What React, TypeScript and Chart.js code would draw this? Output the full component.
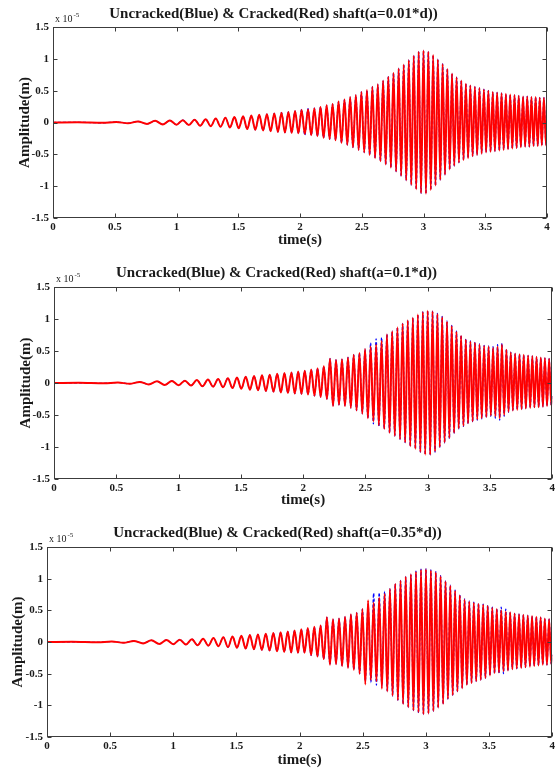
import React, { useEffect, useRef } from "react";
import { Chart, registerables } from "chart.js";

Chart.register(...registerables);

// Amplitudes are in units of 1e-5 m (axis multiplier "x 10^-5").
// Times (s) of the successive extrema (shared by all panels).
const TIME = [
  0, 0.2, 0.4,
  0.513, 0.607, 0.688, 0.761, 0.827, 0.889, 0.946, 1.0, 1.051, 1.1,
  1.147, 1.192, 1.236, 1.277, 1.318, 1.357, 1.396, 1.433, 1.469, 1.504,
  1.539, 1.573, 1.606, 1.638, 1.67, 1.701, 1.732, 1.762, 1.792, 1.821,
  1.85, 1.878, 1.906, 1.933, 1.96, 1.987,
  2.013, 2.039, 2.065, 2.091, 2.116, 2.141, 2.166, 2.191, 2.216, 2.24,
  2.264, 2.288, 2.312, 2.336, 2.36, 2.383, 2.406, 2.429, 2.452, 2.475,
  2.497, 2.52, 2.542, 2.564, 2.586, 2.608, 2.63, 2.651, 2.673, 2.694,
  2.715, 2.736, 2.757, 2.778, 2.799, 2.819, 2.84, 2.86, 2.881, 2.901,
  2.921, 2.941, 2.961, 2.98, 3.0, 3.02, 3.039, 3.059, 3.078, 3.097,
  3.116, 3.136, 3.155, 3.174, 3.193, 3.212, 3.231, 3.249, 3.268, 3.287,
  3.306, 3.324, 3.343, 3.361, 3.379, 3.398, 3.416, 3.434, 3.453, 3.471,
  3.489, 3.507, 3.525, 3.543, 3.561, 3.578, 3.596, 3.614, 3.632, 3.649,
  3.667, 3.684, 3.702, 3.719, 3.737, 3.754, 3.771, 3.788, 3.806, 3.823,
  3.84, 3.857, 3.874, 3.891, 3.908, 3.925, 3.941, 3.958, 3.975, 3.992,
  4.0,
];

// Early part of the response (t < 2 s), identical in all panels.
const EARLY_AMP = [
  0, 0.003, -0.005,
  0.008, -0.012, 0.017, -0.022, 0.026, -0.03, 0.032, -0.035, 0.037, -0.04,
  0.045, -0.05, 0.053, -0.058, 0.062, -0.067, 0.074, -0.08, 0.085, -0.09,
  0.097, -0.104, 0.11, -0.115, 0.12, -0.125, 0.13, -0.136, 0.143, -0.148,
  0.155, -0.158, 0.166, -0.165, 0.18, -0.17,
];

// Panel 1 (a = 0.01*d)
const RED_1 = [
  0.195, -0.18, 0.205, -0.2, 0.225, -0.215, 0.245, -0.24, 0.27, -0.26,
  0.29, -0.28, 0.33, -0.32, 0.36, -0.35, 0.4, -0.39, 0.43, -0.43,
  0.48, -0.47, 0.51, -0.51, 0.56, -0.56, 0.6, -0.61, 0.66, -0.66,
  0.72, -0.71, 0.78, -0.77, 0.85, -0.84, 0.91, -0.91, 0.98, -0.98,
  1.05, -1.05, 1.11, -1.11, 1.13, -1.12, 1.11, -1.06, 1.06, -0.99,
  0.99, -0.9, 0.92, -0.82, 0.84, -0.74, 0.77, -0.68, 0.71, -0.63,
  0.66, -0.59, 0.61, -0.56, 0.58, -0.53, 0.56, -0.51, 0.54, -0.49,
  0.52, -0.47, 0.5, -0.46, 0.48, -0.45, 0.47, -0.44, 0.46, -0.43,
  0.45, -0.42, 0.44, -0.41, 0.43, -0.4, 0.42, -0.39, 0.41, -0.38,
  0.41, -0.38, 0.4, -0.37, 0.4, -0.37, 0.39, -0.36, 0.39, -0.36,
  -0.2,
];
const BLUE_1 = [
  0.21, -0.2, 0.22, -0.2, 0.225, -0.215, 0.245, -0.24, 0.27, -0.26,
  0.29, -0.28, 0.33, -0.32, 0.36, -0.35, 0.4, -0.39, 0.43, -0.43,
  0.48, -0.47, 0.51, -0.51, 0.56, -0.56, 0.6, -0.61, 0.66, -0.66,
  0.72, -0.71, 0.78, -0.77, 0.85, -0.84, 0.91, -0.91, 0.98, -0.98,
  1.05, -1.05, 1.11, -1.11, 1.13, -1.12, 1.11, -1.06, 1.06, -0.99,
  0.99, -0.9, 0.92, -0.82, 0.84, -0.74, 0.77, -0.68, 0.71, -0.63,
  0.66, -0.59, 0.61, -0.56, 0.58, -0.53, 0.56, -0.51, 0.54, -0.49,
  0.52, -0.47, 0.5, -0.46, 0.48, -0.45, 0.47, -0.44, 0.46, -0.43,
  0.45, -0.42, 0.44, -0.41, 0.43, -0.4, 0.42, -0.39, 0.41, -0.38,
  0.41, -0.38, 0.4, -0.37, 0.4, -0.37, 0.39, -0.36, 0.39, -0.36,
  -0.2,
];

// Panel 2 (a = 0.1*d)
const RED_2 = [
  0.19, -0.18, 0.21, -0.2, 0.23, -0.22, 0.26, -0.25, 0.38, -0.36,
  0.36, -0.34, 0.37, -0.36, 0.4, -0.39, 0.44, -0.43, 0.47, -0.48,
  0.53, -0.55, 0.57, -0.6, 0.6, -0.66, 0.66, -0.72, 0.76, -0.78,
  0.81, -0.83, 0.87, -0.88, 0.93, -0.93, 0.98, -0.99, 1.02, -1.03,
  1.07, -1.08, 1.11, -1.12, 1.13, -1.12, 1.12, -1.07, 1.08, -1.0,
  1.03, -0.93, 0.96, -0.86, 0.89, -0.78, 0.8, -0.71, 0.74, -0.67,
  0.68, -0.63, 0.65, -0.6, 0.63, -0.57, 0.6, -0.55, 0.58, -0.53,
  0.57, -0.51, 0.55, -0.52, 0.57, -0.55, 0.6, -0.5, 0.52, -0.45,
  0.48, -0.43, 0.46, -0.42, 0.45, -0.41, 0.44, -0.4, 0.43, -0.39,
  0.42, -0.38, 0.41, -0.38, 0.4, -0.37, 0.39, -0.36, 0.38, -0.35,
  -0.2,
];
const BLUE_2 = [
  0.19, -0.18, 0.21, -0.2, 0.23, -0.22, 0.26, -0.25, 0.38, -0.36,
  0.36, -0.34, 0.37, -0.36, 0.4, -0.39, 0.44, -0.43, 0.47, -0.48,
  0.53, -0.55, 0.63, -0.64, 0.69, -0.68, 0.71, -0.72, 0.76, -0.78,
  0.81, -0.83, 0.87, -0.88, 0.93, -0.93, 0.98, -0.99, 1.02, -1.03,
  1.07, -1.08, 1.11, -1.12, 1.13, -1.12, 1.12, -1.08, 1.09, -1.01,
  1.04, -0.94, 0.97, -0.87, 0.9, -0.79, 0.81, -0.72, 0.75, -0.68,
  0.69, -0.64, 0.66, -0.61, 0.64, -0.58, 0.61, -0.56, 0.59, -0.54,
  0.58, -0.52, 0.57, -0.55, 0.6, -0.58, 0.62, -0.52, 0.53, -0.46,
  0.48, -0.43, 0.46, -0.42, 0.45, -0.41, 0.44, -0.4, 0.43, -0.39,
  0.42, -0.38, 0.41, -0.38, 0.4, -0.37, 0.39, -0.36, 0.38, -0.35,
  -0.2,
];

// Panel 3 (a = 0.35*d)
const RED_3 = [
  0.2, -0.17, 0.22, -0.21, 0.24, -0.23, 0.26, -0.27, 0.39, -0.36,
  0.36, -0.35, 0.37, -0.38, 0.4, -0.41, 0.44, -0.44, 0.46, -0.5,
  0.52, -0.67, 0.66, -0.6, 0.62, -0.62, 0.7, -0.74, 0.76, -0.78,
  0.84, -0.85, 0.92, -0.92, 0.97, -0.98, 1.03, -1.03, 1.07, -1.08,
  1.11, -1.11, 1.14, -1.14, 1.15, -1.13, 1.13, -1.09, 1.1, -1.04,
  1.04, -0.98, 0.96, -0.9, 0.89, -0.84, 0.81, -0.78, 0.74, -0.73,
  0.67, -0.68, 0.64, -0.65, 0.62, -0.62, 0.6, -0.6, 0.59, -0.57,
  0.57, -0.53, 0.54, -0.49, 0.52, -0.48, 0.5, -0.46, 0.48, -0.45,
  0.47, -0.43, 0.45, -0.42, 0.44, -0.41, 0.43, -0.4, 0.42, -0.39,
  0.41, -0.38, 0.4, -0.37, 0.39, -0.36, 0.37, -0.36, 0.36, -0.35,
  -0.2,
];
const BLUE_3 = [
  0.2, -0.17, 0.22, -0.21, 0.24, -0.23, 0.26, -0.27, 0.39, -0.36,
  0.36, -0.35, 0.37, -0.38, 0.4, -0.41, 0.44, -0.44, 0.46, -0.5,
  0.52, -0.62, 0.6, -0.64, 0.77, -0.68, 0.78, -0.7, 0.8, -0.78,
  0.84, -0.85, 0.92, -0.92, 0.97, -0.98, 1.03, -1.03, 1.07, -1.08,
  1.12, -1.12, 1.15, -1.14, 1.16, -1.13, 1.14, -1.09, 1.11, -1.04,
  1.05, -0.98, 0.97, -0.9, 0.9, -0.84, 0.82, -0.78, 0.75, -0.73,
  0.68, -0.68, 0.65, -0.65, 0.63, -0.62, 0.61, -0.6, 0.6, -0.57,
  0.58, -0.53, 0.55, -0.5, 0.53, -0.5, 0.55, -0.5, 0.52, -0.46,
  0.47, -0.43, 0.45, -0.42, 0.44, -0.41, 0.43, -0.4, 0.42, -0.39,
  0.41, -0.38, 0.4, -0.37, 0.39, -0.36, 0.37, -0.36, 0.36, -0.35,
  -0.2,
];

const X_TICKS = [0, 0.5, 1, 1.5, 2, 2.5, 3, 3.5, 4];
const Y_TICKS = [-1.5, -1, -0.5, 0, 0.5, 1, 1.5];
const X_TICK_LABELS = ["0", "0.5", "1", "1.5", "2", "2.5", "3", "3.5", "4"];
const Y_TICK_LABELS = ["-1.5", "-1", "-0.5", "0", "0.5", "1", "1.5"];

const TITLES = [
  "Uncracked(Blue) & Cracked(Red) shaft(a=0.01*d))",
  "Uncracked(Blue) & Cracked(Red) shaft(a=0.1*d))",
  "Uncracked(Blue) & Cracked(Red) shaft(a=0.35*d))",
];

const SERIF = '"Liberation Serif", "Times New Roman", serif';

function toPoints(late: number[]) {
  const vals = [...EARLY_AMP, ...late];
  const n = Math.min(vals.length, TIME.length);
  const pts: { x: number; y: number }[] = [];
  for (let i = 0; i < n; i++) pts.push({ x: TIME[i], y: vals[i] });
  return pts;
}

const framePlugin = {
  id: "matlabFrame",
  afterDraw(chart: any) {
    const { ctx, chartArea: a, scales } = chart;
    const L = Math.round(a.left) + 0.5;
    const R = Math.round(a.right) - 0.5;
    const T = Math.round(a.top) + 0.5;
    const B = Math.round(a.bottom) - 0.5;
    ctx.save();
    ctx.strokeStyle = "#3c3c3c";
    ctx.lineWidth = 1;
    ctx.strokeRect(L, T, R - L, B - T);
    const tl = 4;
    ctx.beginPath();
    scales.x.ticks.forEach((t: any) => {
      const px = Math.round(scales.x.getPixelForValue(t.value)) + 0.5;
      ctx.moveTo(px, B);
      ctx.lineTo(px, B - tl);
      ctx.moveTo(px, T);
      ctx.lineTo(px, T + tl);
    });
    scales.y.ticks.forEach((t: any) => {
      const py = Math.round(scales.y.getPixelForValue(t.value)) + 0.5;
      ctx.moveTo(L, py);
      ctx.lineTo(L + tl, py);
      ctx.moveTo(R, py);
      ctx.lineTo(R - tl, py);
    });
    ctx.stroke();
    // exponent multiplier
    ctx.fillStyle = "#222";
    ctx.textBaseline = "alphabetic";
    ctx.textAlign = "left";
    ctx.font = `10px ${SERIF}`;
    const base = "x 10";
    ctx.fillText(base, a.left + 2, a.top - 5);
    const w = ctx.measureText(base).width;
    ctx.font = `7px ${SERIF}`;
    ctx.fillText("-5", a.left + 2 + w + 1, a.top - 10);
    ctx.restore();
  },
};

type Geom = {
  top: number;
  height: number;
  left: number;
  padRight: number;
  titleTop: number;
  titleBottom: number;
  xh: number;
  ytp: number;
};

function Panel({ geom, title, red, blue }: { geom: Geom; title: string; red: number[]; blue: number[] }) {
  const ref = useRef<HTMLCanvasElement | null>(null);
  useEffect(() => {
    if (!ref.current) return;
    const tickFont = { family: SERIF, size: 11, weight: "bold" as const };
    const axisFont = { family: SERIF, size: 15, weight: "bold" as const };
    const chart = new Chart(ref.current, {
      type: "line",
      data: {
        datasets: [
          {
            label: "Cracked",
            data: toPoints(red),
            borderColor: "#ff0000",
            borderWidth: 2,
            pointRadius: 0,
            fill: false,
            cubicInterpolationMode: "monotone",
          },
          {
            label: "Uncracked",
            data: toPoints(blue),
            borderColor: "#0000ff",
            borderWidth: 1.2,
            borderDash: [3, 2],
            pointRadius: 0,
            fill: false,
            cubicInterpolationMode: "monotone",
          },
        ],
      },
      options: {
        responsive: false,
        animation: false,
        devicePixelRatio: 1,
        events: [],
        layout: { padding: { left: 0, right: geom.padRight, top: 0, bottom: 0 } },
        plugins: {
          legend: { display: false },
          tooltip: { enabled: false },
          title: {
            display: true,
            text: title,
            color: "#1a1a1a",
            font: { family: SERIF, size: 15, weight: "bold" },
            padding: { top: geom.titleTop, bottom: geom.titleBottom },
          },
        },
        scales: {
          x: {
            type: "linear",
            min: 0,
            max: 4,
            afterBuildTicks: (s: any) => {
              s.ticks = X_TICKS.map((v) => ({ value: v }));
            },
            afterFit: (s: any) => {
              s.height = geom.xh;
            },
            grid: { display: false, drawTicks: false, tickLength: 0 },
            border: { display: false },
            ticks: {
              autoSkip: false,
              maxRotation: 0,
              padding: 3,
              color: "#1a1a1a",
              font: tickFont,
              callback: (v: any) => {
                const i = X_TICKS.indexOf(Number(v));
                return i >= 0 ? X_TICK_LABELS[i] : "";
              },
            },
            title: {
              display: true,
              text: "time(s)",
              color: "#1a1a1a",
              font: axisFont,
              padding: { top: 0, bottom: 1 },
            },
          },
          y: {
            type: "linear",
            min: -1.5,
            max: 1.5,
            afterBuildTicks: (s: any) => {
              s.ticks = Y_TICKS.map((v) => ({ value: v }));
            },
            afterFit: (s: any) => {
              s.width = geom.left;
            },
            grid: { display: false, drawTicks: false, tickLength: 0 },
            border: { display: false },
            ticks: {
              autoSkip: false,
              padding: 4,
              color: "#1a1a1a",
              font: tickFont,
              callback: (v: any) => {
                const i = Y_TICKS.indexOf(Number(v));
                return i >= 0 ? Y_TICK_LABELS[i] : "";
              },
            },
            title: {
              display: true,
              text: "Amplitude(m)",
              color: "#1a1a1a",
              font: axisFont,
              padding: { top: geom.ytp, bottom: 0 },
            },
          },
        },
      },
      plugins: [framePlugin],
    } as any);
    return () => chart.destroy();
  }, []);
  return (
    <canvas
      ref={ref}
      width={558}
      height={geom.height}
      style={{ position: "absolute", left: 0, top: geom.top, width: 558, height: geom.height, display: "block" }}
    />
  );
}

const GEOMS: Geom[] = [
  { top: 0, height: 250, left: 53, padRight: 11, titleTop: 5, titleBottom: 4, xh: 32, ytp: 16 },
  { top: 250, height: 260, left: 54, padRight: 5, titleTop: 14, titleBottom: 5, xh: 31, ytp: 17 },
  { top: 510, height: 260, left: 47, padRight: 3, titleTop: 14, titleBottom: 5, xh: 33, ytp: 9.5 },
];

export default function App() {
  return (
    <div style={{ position: "absolute", left: 0, top: 0, width: 558, height: 770, background: "#fff", overflow: "hidden" }}>
      <Panel geom={GEOMS[0]} title={TITLES[0]} red={RED_1} blue={BLUE_1} />
      <Panel geom={GEOMS[1]} title={TITLES[1]} red={RED_2} blue={BLUE_2} />
      <Panel geom={GEOMS[2]} title={TITLES[2]} red={RED_3} blue={BLUE_3} />
    </div>
  );
}
